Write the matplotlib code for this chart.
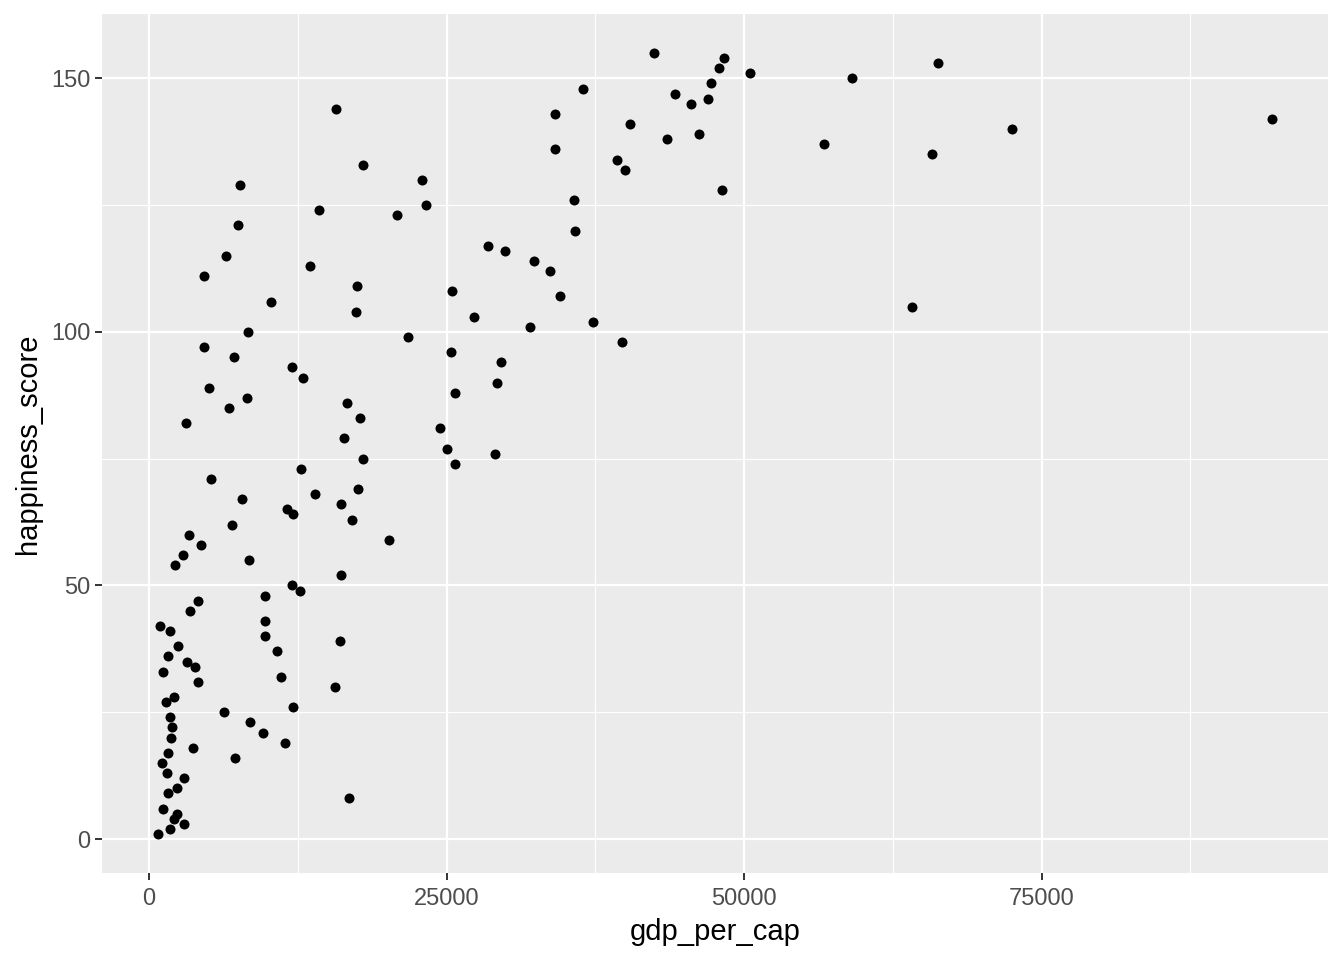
import matplotlib
matplotlib.use("Agg")
import matplotlib.pyplot as plt
from matplotlib.ticker import FixedLocator

plt.rcParams['font.family'] = ['Liberation Sans', 'DejaVu Sans']

gdp_per_cap = [
    11971, 12668, 9706, 4111, 3414, 9706, 898, 1762, 9706, 16023,
    2433, 10713, 1569, 3188, 3834, 1149, 11049, 4111, 15663, 2072,
    1401, 12055, 6267, 1737, 8448, 1904, 9564, 1820, 11384, 3666,
    1569, 7190, 1065, 1485, 2911, 2324, 1569, 1149, 2324, 2072,
    2911, 1737, 730, 16779,
    10210, 17424, 8280, 4589, 7106, 11971, 12978, 5008, 8196, 16667,
    6686, 17757, 3078, 16415, 18011, 12808, 5229, 13984, 17590, 7774,
    16163, 11633, 12055, 17086, 6935, 3328, 20190, 4390, 2824, 8363,
    2153, 16163,
    15743, 18011, 22960, 7606, 23297, 14320, 20830, 7438, 6432, 13565,
    4589, 17508,
    42424, 48297, 47877, 50478, 47206, 36468, 44186, 45528, 46955, 34119,
    40411, 46200, 43515, 34119, 39320, 39991, 48129, 35713, 35797, 28465,
    29924, 32357, 33700, 25478, 34539, 27324, 37307, 32022, 21787, 39740,
    25394, 29589, 29253, 25730, 24471, 25000, 29086, 25730,
    56711, 59060, 66275, 65772, 72483, 94379, 64094,
]
happiness_score = [
    50, 49, 48, 47, 45, 43, 42, 41, 40, 39,
    38, 37, 36, 35, 34, 33, 32, 31, 30, 28,
    27, 26, 25, 24, 23, 22, 21, 20, 19, 18,
    17, 16, 15, 13, 12, 10, 9, 6, 5, 4,
    3, 2, 1, 8,
    106, 104, 100, 97, 95, 93, 91, 89, 87, 86,
    85, 83, 82, 79, 75, 73, 71, 68, 69, 67,
    66, 65, 64, 63, 62, 60, 59, 58, 56, 55,
    54, 52,
    144, 133, 130, 129, 125, 124, 123, 121, 115, 113,
    111, 109,
    155, 154, 152, 151, 149, 148, 147, 145, 146, 143,
    141, 139, 138, 136, 134, 132, 128, 126, 120, 117,
    116, 114, 112, 108, 107, 103, 102, 101, 99, 98,
    96, 94, 90, 88, 81, 77, 76, 74,
    137, 150, 153, 135, 140, 142, 105,
]

x_ticks = [0, 25000, 50000, 75000]
x_minor = [12500, 37500, 62500, 87500]
y_ticks = [0, 50, 100, 150]
y_minor = [25, 75, 125]

fig = plt.figure(figsize=(13.44, 9.6), dpi=100)
ax = fig.add_axes([102/1344, 87/960, (1328-102)/1344, (873-14)/960])
ax.set_facecolor('#EBEBEB')

ax.scatter(gdp_per_cap, happiness_score, s=52, color='black', linewidths=0, zorder=3)

xmin, xmax = min(gdp_per_cap), max(gdp_per_cap)
ymin, ymax = min(happiness_score), max(happiness_score)
dx = (xmax - xmin) * 0.05
dy = (ymax - ymin) * 0.05
ax.set_xlim(xmin - dx, xmax + dx)
ax.set_ylim(ymin - dy, ymax + dy)

ax.xaxis.set_major_locator(FixedLocator(x_ticks))
ax.xaxis.set_minor_locator(FixedLocator(x_minor))
ax.yaxis.set_major_locator(FixedLocator(y_ticks))
ax.yaxis.set_minor_locator(FixedLocator(y_minor))
ax.set_xticklabels([str(t) for t in x_ticks])
ax.set_yticklabels([str(t) for t in y_ticks])

ax.grid(which='major', color='white', linewidth=1.6, zorder=0)
ax.grid(which='minor', color='white', linewidth=0.8, zorder=0)
ax.set_axisbelow(True)
for s in ax.spines.values():
    s.set_visible(False)

ax.tick_params(which='major', length=5.2, width=1.4, color='#333333',
               labelsize=17, labelcolor='#4D4D4D', pad=3)
ax.tick_params(axis='x', which='major', pad=5.5)
ax.tick_params(which='minor', length=0)

ax.set_xlabel('gdp_per_cap', fontsize=21, color='black')
ax.set_ylabel('happiness_score', fontsize=21, color='black')
ax.xaxis.label.set_va('center')
ax.yaxis.label.set_va('center')
ax.xaxis.set_label_coords(0.5, (873 - 932) / 859)
ax.yaxis.set_label_coords((28 - 102) / 1226, 0.5)

fig.savefig('out.png', dpi=100, facecolor='white')
